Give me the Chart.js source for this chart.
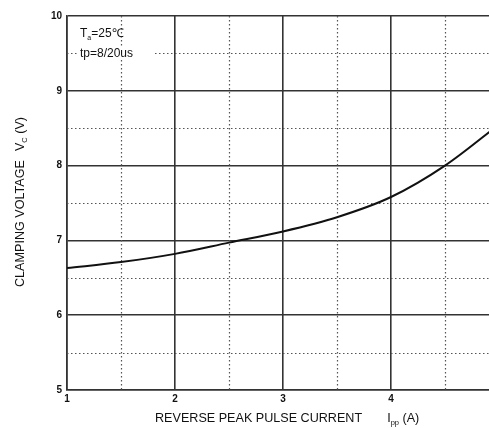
<!DOCTYPE html>
<html>
<head>
<meta charset="utf-8">
<script src="https://cdn.jsdelivr.net/npm/chart.js@4/dist/chart.umd.min.js"></script>
<style>
  html, body { margin: 0; padding: 0; background: #fff; overflow: hidden; }
  .wrap { width: 489px; height: 428px; overflow: hidden; }
  .inner { width: 520px; height: 428px; }
</style>
</head>
<body>
<div class="wrap"><div class="inner"><canvas id="c"></canvas></div></div>
<script>
// reverse peak pulse current (A) and clamping voltage (V)
const currents = [1, 1.5, 2, 2.5, 3, 3.5, 4, 4.5, 5];
const voltages = [6.63, 6.71, 6.82, 6.97, 7.12, 7.31, 7.58, 8.0, 8.55];
const xTicks = [1, 2, 3, 4, 5];
const yTicks = [5, 6, 7, 8, 9, 10];

const FONT = "'Liberation Sans', Arial, sans-serif";

// dotted lines at the half steps, solid ones come from the grid
const halfGrid = {
    id: "halfGrid",
    beforeDatasetsDraw(chart) {
        const { ctx, chartArea: a, scales } = chart;
        ctx.save();
        ctx.strokeStyle = "#555";
        ctx.lineWidth = 1.2;
        ctx.setLineDash([1.5, 2.5]);
        scales.x.ticks.forEach(t => {
            if (t.value % 1 === 0) return;
            const x = Math.round(scales.x.getPixelForValue(t.value)) + 0.5;
            ctx.beginPath(); ctx.moveTo(x, a.top); ctx.lineTo(x, a.bottom); ctx.stroke();
        });
        scales.y.ticks.forEach(t => {
            if (t.value % 1 === 0) return;
            const y = Math.round(scales.y.getPixelForValue(t.value)) + 0.5;
            ctx.beginPath(); ctx.moveTo(a.left, y); ctx.lineTo(a.right, y); ctx.stroke();
        });
        ctx.restore();
    }
};

// axis titles and the note, with subscripts
const texts = {
    id: "texts",
    afterDraw(chart) {
        const { ctx, chartArea: a } = chart;
        ctx.save();
        ctx.fillStyle = "#111";
        ctx.textBaseline = "alphabetic";

        // note
        ctx.font = "12px " + FONT;
        ctx.fillStyle = "#fff";
        ctx.fillRect(a.left + 12, a.top + 31, 74, 12);
        ctx.fillStyle = "#111";
        let x = a.left + 13, y = a.top + 21;
        ctx.fillText("T", x, y); x += ctx.measureText("T").width;
        ctx.font = "7px " + FONT;
        ctx.fillText("a", x, y + 3); x += ctx.measureText("a").width;
        ctx.font = "12px " + FONT;
        ctx.fillText("=25\u2103", x, y);
        ctx.fillText("tp=8/20us", a.left + 13, a.top + 41);

        // x title
        const big = "12.6px " + FONT, small = "7.5px " + FONT;
        const xMain = "REVERSE PEAK PULSE CURRENT";
        ctx.font = big;
        const w1 = ctx.measureText(xMain).width;
        x = 155;
        y = 422;
        ctx.fillText(xMain, x, y); x += w1 + 25;
        ctx.fillText("I", x, y); x += ctx.measureText("I").width;
        ctx.font = small;
        ctx.fillText("pp", x, y + 3); x += ctx.measureText("pp").width;
        ctx.font = big;
        ctx.fillText(" (A)", x, y);

        // y title
        ctx.translate(24, 287);
        ctx.rotate(-Math.PI / 2);
        const yMain = "CLAMPING VOLTAGE";
        ctx.font = big;
        x = 0;
        ctx.fillText(yMain, x, 0); x += ctx.measureText(yMain).width + 9;
        ctx.fillText("V", x, 0); x += ctx.measureText("V").width;
        ctx.font = small;
        ctx.fillText("C", x, 3); x += ctx.measureText("C").width;
        ctx.font = big;
        ctx.fillText(" (V)", x, 0);
        ctx.restore();
    }
};

new Chart(document.getElementById("c"), {
    type: "line",
    data: {
        datasets: [{
            data: currents.map((c, i) => ({ x: c, y: voltages[i] })),
            borderColor: "#111",
            borderWidth: 2,
            pointRadius: 0,
            cubicInterpolationMode: "monotone",
            fill: false
        }]
    },
    options: {
        responsive: true,
        maintainAspectRatio: false,
        animation: false,
        layout: { padding: { top: 16, right: 21, left: 0, bottom: 0 } },
        plugins: { legend: { display: false }, tooltip: { enabled: false } },
        scales: {
            x: {
                type: "linear",
                min: xTicks[0],
                max: xTicks[xTicks.length - 1],
                afterFit(s) { s.height = 38; },
                ticks: {
                    stepSize: 0.5,
                    autoSkip: false,
                    maxRotation: 0,
                    padding: 3,
                    color: "#111",
                    font: { family: FONT, size: 10, weight: "bold" },
                    callback: v => xTicks.includes(v) ? String(v) : ""
                },
                grid: {
                    color: c => c.tick && c.tick.value % 1 === 0 ? "#333" : "transparent",
                    lineWidth: 1.6,
                    drawTicks: false
                },
                border: { color: "#333", width: 1.6 }
            },
            y: {
                min: yTicks[0],
                max: yTicks[yTicks.length - 1],
                afterFit(s) { s.width = 67; },
                ticks: {
                    stepSize: 0.5,
                    autoSkip: false,
                    padding: 5,
                    color: "#111",
                    font: { family: FONT, size: 10, weight: "bold" },
                    callback: v => yTicks.includes(v) ? String(v) : ""
                },
                grid: {
                    color: c => c.tick && c.tick.value % 1 === 0 ? "#333" : "transparent",
                    lineWidth: 1.6,
                    drawTicks: false
                },
                border: { color: "#333", width: 1.6 }
            }
        }
    },
    plugins: [halfGrid, texts]
});
</script>
</body>
</html>
